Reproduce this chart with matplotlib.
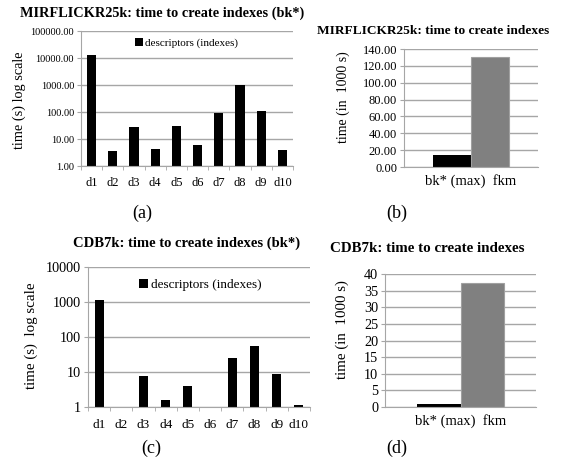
import numpy as np
import matplotlib
matplotlib.use("Agg")
import matplotlib.pyplot as plt
from matplotlib.ticker import FixedLocator, FuncFormatter
from matplotlib.patches import Patch

# ---- data ----
descriptors = ["d1", "d2", "d3", "d4", "d5", "d6", "d7", "d8", "d9", "d10"]
mir_times = [12900, 3.5, 28, 4.1, 31, 6.0, 95, 1030, 112, 3.8]          # seconds
cdb_times = [1140, 1.0, 7.5, 1.52, 3.86, 1.0, 25.3, 56, 8.75, 1.09]     # seconds
methods = ["bk* (max)", "fkm"]
mir_method_times = [13.7, 130.8]   # in 1000 s
cdb_method_times = [1.0, 37.4]     # in 1000 s
method_colors = ["#000000", "#808080"]

W, H = 561, 468
plt.rcParams['font.family'] = ['Liberation Serif', 'DejaVu Serif']
fig = plt.figure(figsize=(W / 100, H / 100), dpi=100)

GRID = "#a6a6a6"

def add_ax(x0, y0, x1, y1):
    return fig.add_axes([x0 / W, 1 - y1 / H, (x1 - x0) / W, (y1 - y0) / H])

def style(ax):
    for s in ["top", "right"]:
        ax.spines[s].set_visible(False)
    ax.spines["left"].set_color(GRID)
    ax.spines["bottom"].set_color(GRID)
    ax.yaxis.grid(True, color=GRID, linewidth=1.0)
    ax.set_axisbelow(True)
    ax.tick_params(axis="y", direction="out", length=3, color=GRID, pad=2)

def log_panel(ax, values, ymax, fmt, tick_fs, xfs, width, legend_pos, legend_fs, xpad):
    style(ax)
    x = np.arange(len(descriptors))
    ax.bar(x, values, width=width, color="black", linewidth=0, label="descriptors (indexes)")
    ax.set_yscale("log")
    ax.set_ylim(1, ymax)
    ax.set_xlim(-0.5, len(descriptors) - 0.5)
    ticks = [10 ** k for k in range(int(np.log10(ymax)) + 1)]
    ax.yaxis.set_major_locator(FixedLocator(ticks))
    ax.yaxis.set_minor_locator(FixedLocator([]))
    ax.yaxis.set_major_formatter(FuncFormatter(fmt))
    ax.set_xticks(x)
    ax.set_xticklabels(descriptors, fontsize=xfs)
    ax.set_xticks(np.arange(len(descriptors) + 1) - 0.5, minor=True)
    ax.tick_params(axis="x", which="major", length=0, pad=xpad)
    ax.tick_params(axis="x", which="minor", length=3, color=GRID, direction="out")
    for t in ax.get_yticklabels():
        t.set_fontsize(tick_fs)
    handle = Patch(facecolor="black")
    ax.legend([handle], ["descriptors (indexes)"], loc="center", bbox_to_anchor=legend_pos,
              frameon=False, fontsize=legend_fs, handlelength=0.7, handleheight=0.7,
              handletextpad=0.2, borderpad=0)

def method_panel(ax, values, ymax, step, fmt, tick_fs, width):
    style(ax)
    n = len(methods)
    offsets = (np.arange(n) - (n - 1) / 2) * width
    edges = ["none", "#a0a0a0"]
    for i in range(n):
        ax.bar(offsets[i], values[i], width=width, color=method_colors[i],
               edgecolor=edges[i], linewidth=0.8)
    ax.set_xlim(-0.5, 0.5)
    ax.set_ylim(0, ymax)
    ax.set_yticks(np.arange(0, ymax + step / 2, step))
    ax.yaxis.set_major_formatter(FuncFormatter(fmt))
    for t in ax.get_yticklabels():
        t.set_fontsize(tick_fs)
    ax.set_xticks([0])
    ax.set_xticklabels(["  ".join(methods)], fontsize=10.5)
    ax.tick_params(axis="x", length=0, pad=5)

# (a)
ax_a = add_ax(81, 31, 293, 166)
log_panel(ax_a, mir_times, 1e5, lambda v, p: f"{v:.2f}", 7.5, 9, width=0.44,
          legend_pos=(0.5, 0.91), legend_fs=8, xpad=8)
fig.text(162 / W, 1 - 13 / H, "MIRFLICKR25k: time to create indexes (bk*)",
         ha="center", va="center", fontsize=10.3, fontweight="bold")
fig.text(19 / W, 1 - 100 / H, "time (s) log scale", rotation=90,
         ha="center", va="center", fontsize=10.3)

# (b)
ax_b = add_ax(404, 49, 538, 167)
method_panel(ax_b, mir_method_times, 140, 20, lambda v, p: f"{v:.2f}", 9, width=0.284)
fig.text(433 / W, 1 - 31 / H, "MIRFLICKR25k: time to create indexes",
         ha="center", va="center", fontsize=9.6, fontweight="bold")
fig.text(343 / W, 1 - 97 / H, "time (in  1000 s)", rotation=90,
         ha="center", va="center", fontsize=10)

# (c)
ax_c = add_ax(88, 267, 310, 406.5)
log_panel(ax_c, cdb_times, 1e4, lambda v, p: f"{int(round(v))}", 10.3, 9.5, width=0.41,
          legend_pos=(0.505, 0.87), legend_fs=9.5, xpad=9)
fig.text(187 / W, 1 - 243 / H, "CDB7k: time to create indexes (bk*)",
         ha="center", va="center", fontsize=10.5, fontweight="bold")
fig.text(31 / W, 1 - 336 / H, "time (s)  log scale", rotation=90,
         ha="center", va="center", fontsize=10.8)

# (d)
ax_d = add_ax(385, 274, 536, 407)
method_panel(ax_d, cdb_method_times, 40, 5, lambda v, p: f"{int(round(v))}", 10.3, width=0.29)
fig.text(427 / W, 1 - 248 / H, "CDB7k: time to create indexes",
         ha="center", va="center", fontsize=10.8, fontweight="bold")
fig.text(342 / W, 1 - 330 / H, "time (in  1000 s)", rotation=90,
         ha="center", va="center", fontsize=10.8)

# sub-figure labels
for lab, (x, y) in {"(a)": (142, 213), "(b)": (397, 213),
                    "(c)": (151, 448), "(d)": (397, 448)}.items():
    fig.text(x / W, 1 - y / H, lab, ha="center", va="center", fontsize=13)

fig.savefig("out.png", dpi=100)
